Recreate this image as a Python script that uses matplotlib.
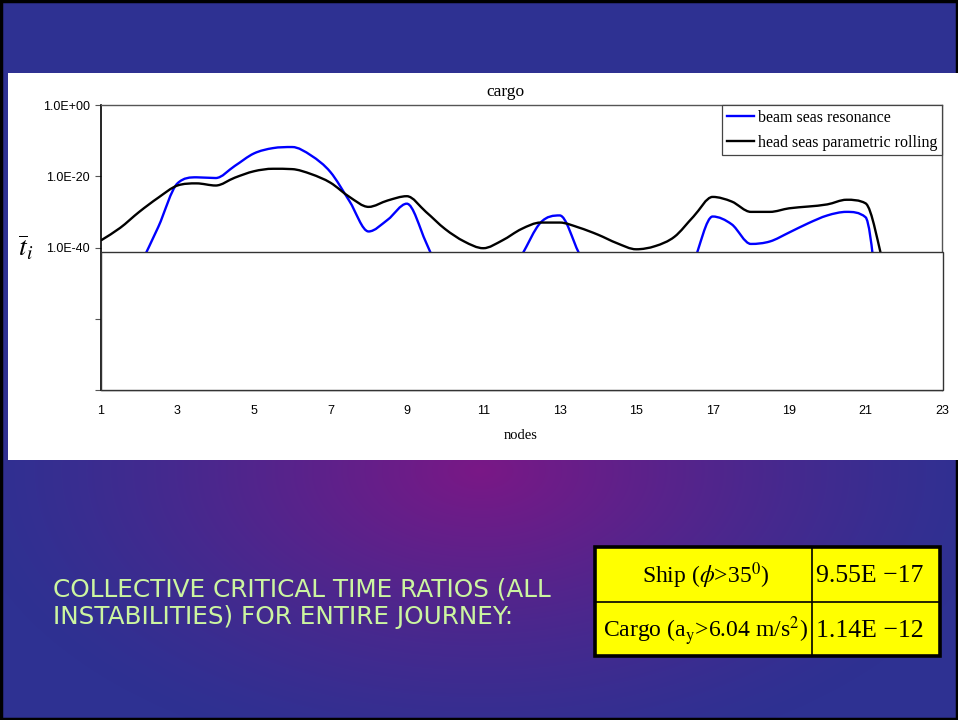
import numpy as np
import matplotlib
matplotlib.use("Agg")
import matplotlib.pyplot as plt
from matplotlib.patches import Rectangle, PathPatch
from matplotlib.path import Path
from matplotlib.lines import Line2D
from matplotlib.ticker import NullLocator

# ---- data: critical time ratio along the route (log10 of the value) ----
nodes = [1, 1.5, 2, 2.5, 3, 3.5, 4, 4.5, 5, 5.5, 6, 6.5, 7, 7.5, 8, 8.5,
         9, 9.5, 10, 10.5, 11, 11.5, 12, 12.5, 13, 13.5, 14, 14.5, 15, 15.5,
         16, 16.5, 17, 17.5, 18, 18.5, 19, 19.5, 20, 20.5, 21, 21.5]

beam_log10 = [np.nan, np.nan, -45.5, -34.2, -22.0, -20.3, -20.5, -17.1,
              -13.6, -12.1, -11.8, -14.2, -18.8, -27.0, -35.5, -32.2,
              -27.7, -38.5, -51.0, np.nan, np.nan, np.nan, -42.3, -33.0,
              -31.0, -41.5, np.nan, np.nan, np.nan, np.nan,
              np.nan, -44.3, -31.3, -33.5, -39.0, -38.3, -35.8, -33.2,
              -31.0, -30.0, -31.5, -75.0]

head_log10 = [-38.0, -34.5, -30.0, -26.0, -22.6, -22.0, -22.6, -20.4,
              -18.6, -17.9, -18.0, -19.4, -21.8, -25.8, -28.6, -26.8,
              -25.6, -30.0, -34.8, -38.3, -40.2, -38.0, -34.8, -33.0,
              -33.0, -34.4, -36.4, -38.8, -40.5, -39.6,
              -37.0, -31.3, -25.8, -27.1, -30.0, -30.0, -29.0, -28.5,
              -27.9, -26.6, -27.6, -46.0]

series_labels = ["beam seas resonance", "head seas parametric rolling"]
series_colors = ["#0000FF", "black"]
x_ticks = list(range(1, 24, 2))
y_ticks = [1e0, 1e-20, 1e-40, 1e-60, 1e-80]
y_tick_labels = ["1.0E+00", "1.0E-20", "1.0E-40", "", ""]

table_rows = [
    (r"Ship ($\phi$>35$^0$)", "9.55E \u221217"),
    (r"Cargo (a$_\mathrm{y}$>6.04 m/s$^2$)", "1.14E \u221212"),
]
summary_text = ["COLLECTIVE CRITICAL TIME RATIOS (ALL",
                "INSTABILITIES) FOR ENTIRE JOURNEY:"]

plt.rcParams["mathtext.fontset"] = "stix"


def smooth_path(xs, logs):
    """Smoothed Bezier path through each unbroken run (no overshoot)."""
    xs = np.asarray(xs, float)
    logs = np.asarray(logs, float)
    verts, codes = [], []
    ok = ~np.isnan(logs)
    i, n = 0, len(xs)
    while i < n:
        if not ok[i]:
            i += 1
            continue
        j = i
        while j + 1 < n and ok[j + 1]:
            j += 1
        px, py = xs[i:j + 1], logs[i:j + 1]
        m = len(px)
        # tangents (per step), flattened at local extrema and limited
        tan = np.zeros(m)
        for k in range(m):
            if m == 1:
                break
            if k == 0:
                tan[k] = py[1] - py[0]
            elif k == m - 1:
                tan[k] = py[k] - py[k - 1]
            else:
                dl, dr = py[k] - py[k - 1], py[k + 1] - py[k]
                if dl * dr <= 0:
                    tan[k] = 0.0
                else:
                    tk = (dl + dr) / 2.0
                    lim = 3.0 * min(abs(dl), abs(dr))
                    tan[k] = np.sign(tk) * min(abs(tk), lim)
        verts.append((px[0], 10.0 ** py[0]))
        codes.append(Path.MOVETO)
        for k in range(m - 1):
            h = px[k + 1] - px[k]
            verts += [(px[k] + h / 3.0, 10.0 ** (py[k] + tan[k] / 3.0)),
                      (px[k + 1] - h / 3.0, 10.0 ** (py[k + 1] - tan[k + 1] / 3.0)),
                      (px[k + 1], 10.0 ** py[k + 1])]
            codes += [Path.CURVE4] * 3
        i = j + 1
    return Path(verts, codes)


W, H = 958, 720
fig = plt.figure(figsize=(W / 100, H / 100), dpi=100)

# ---- slide background ----
bg = fig.add_axes([0, 0, 1, 1], zorder=0)
bg.set_xlim(0, W)
bg.set_ylim(H, 0)
bg.axis("off")
yy, xx = np.mgrid[0:H, 0:W]
d = np.sqrt(((xx - 480) / 520.0) ** 2 + ((yy - 470) / 300.0) ** 2)
t = np.clip(1 - d, 0, 1) ** 1.3
c_out = np.array([0x2E, 0x31, 0x92]) / 255.0
c_in = np.array([0x7A, 0x18, 0x86]) / 255.0
img = c_out + (c_in - c_out) * t[..., None]
bg.imshow(img, extent=[0, W, H, 0], aspect="auto", interpolation="bilinear")
bg.add_patch(Rectangle((1, 1), W - 2, H - 2, fill=False, edgecolor="black", lw=2.5))
bg.add_patch(Rectangle((8, 73), W - 8, 387, facecolor="white", edgecolor="none"))

# summary text
for i, line in enumerate(summary_text):
    bg.text(53, 589 + i * 28, line, color="#CCF5A0", fontsize=17.8,
            family="DejaVu Sans", va="center", ha="left")

# yellow summary table
tx0, tx1, tmid = 595, 940, 812
ty0, ty1, tymid = 547, 656, 602
bg.add_patch(Rectangle((tx0, ty0), tx1 - tx0, ty1 - ty0, facecolor="#FFFF00",
                       edgecolor="none"))
bg.plot([tmid, tmid], [ty0, ty1], color="black", lw=1.2)
bg.plot([tx0, tx1], [tymid, tymid], color="black", lw=1.2)
bg.add_patch(Rectangle((tx0, ty0), tx1 - tx0, ty1 - ty0, fill=False,
                       edgecolor="black", lw=2.6))
row_y = [(ty0 + tymid) / 2 + 1, (tymid + ty1) / 2 + 2]
for (lab, val), ry in zip(table_rows, row_y):
    bg.text((tx0 + tmid) / 2 + 2, ry, lab, fontsize=17, family="Liberation Serif",
            ha="center", va="center")
    bg.text(tmid + 4, ry, val, fontsize=18.5, family="Liberation Serif",
            ha="left", va="center")

# ---- chart ----
ax = fig.add_axes([101 / W, 1 - 390 / H, (942 - 101) / W, (390 - 105) / H], zorder=2)
ax.set_facecolor("white")
ax.set_yscale("log")
ax.set_ylim(1e-80, 1e0)
ax.set_xlim(1, 23)
handles = []
for logs, col, lab in zip([beam_log10, head_log10], series_colors, series_labels):
    ax.add_patch(PathPatch(smooth_path(nodes, logs), facecolor="none",
                           edgecolor=col, lw=1.7, zorder=3))
    handles.append(Line2D([], [], color=col, lw=1.7, label=lab))
ax.set_yticks(y_ticks)
ax.set_yticklabels(y_tick_labels)
ax.yaxis.set_minor_locator(NullLocator())
ax.set_xticks(x_ticks)
ax.set_xticklabels([str(v) for v in x_ticks])
ax.tick_params(axis="y", length=4, width=0.8, pad=4, labelsize=9, color="#555555")
ax.tick_params(axis="x", length=0, pad=11, labelsize=9)
for lab in ax.get_xticklabels() + ax.get_yticklabels():
    lab.set_family("Liberation Sans")
for side in ["top", "right", "bottom"]:
    ax.spines[side].set_color("#555555")
    ax.spines[side].set_linewidth(1.0)
ax.spines["left"].set_color("black")
ax.spines["left"].set_linewidth(1.2)

# blank panel over the lower part of the plot area
ax.add_patch(Rectangle((0, 0), 1.0015, (390 - 252) / 285.0, transform=ax.transAxes,
                       facecolor="white", edgecolor="#333333", lw=1.0,
                       zorder=5, clip_on=False))

leg = ax.legend(handles=handles, loc="upper right", bbox_to_anchor=(1.0, 1.0),
                borderaxespad=0, frameon=True, fancybox=False, framealpha=1,
                edgecolor="#444444", handlelength=1.7, handletextpad=0.25,
                labelspacing=0.55, borderpad=0.3,
                prop={"family": "Liberation Serif", "size": 11.5})
leg.get_frame().set_linewidth(0.9)
leg.set_zorder(6)

fig.text(505 / W, 1 - 92 / H, "cargo", ha="center", va="center",
         family="Liberation Serif", fontsize=12.5)
fig.text(521 / W, 1 - 436 / H, "nodes", ha="center", va="center",
         family="Liberation Serif", fontsize=10.5)
fig.text(26 / W, 1 - 248 / H, r"$\overline{t}_i$", ha="center", va="center",
         fontsize=20)

fig.savefig("out.png", dpi=100)
